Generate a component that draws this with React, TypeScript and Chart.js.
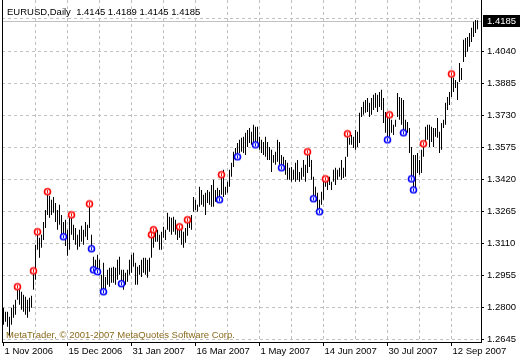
import { useEffect, useRef } from 'react';
import { Chart, registerables } from 'chart.js';
Chart.register(...registerables);

const symbolTitle = 'EURUSD,Daily';
const lastOHLC = ['1.4145', '1.4189', '1.4145', '1.4185'];
const lastPrice = 1.4185;
const copyrightText = 'MetaTrader, \u00a9 2001-2007 MetaQuotes Software Corp.';

const highs = [
  1.2798, 1.2778, 1.2778, 1.2754, 1.2798, 1.2812, 1.2836, 1.2899, 1.2885, 1.2875,
  1.2860, 1.2851, 1.2836, 1.2846, 1.2856, 1.2976, 1.3102, 1.3165, 1.3136, 1.3151,
  1.3213, 1.3271, 1.3359, 1.3339, 1.3320, 1.3334, 1.3305, 1.3271, 1.3296, 1.3247,
  1.3213, 1.3223, 1.3175, 1.3233, 1.3247, 1.3199, 1.3184, 1.3151, 1.3175, 1.3194,
  1.3175, 1.3213, 1.3199, 1.3300, 1.3151, 1.3044, 1.3030, 1.3054, 1.3030, 1.2957,
  1.3015, 1.2947, 1.2981, 1.2991, 1.2991, 1.2996, 1.2991, 1.3030, 1.3044, 1.2981,
  1.2981, 1.2967, 1.2981, 1.3030, 1.3054, 1.3064, 1.3015, 1.2996, 1.3005, 1.3030,
  1.3039, 1.3039, 1.3030, 1.3039, 1.3151, 1.3175, 1.3165, 1.3175, 1.3151, 1.3165,
  1.3189, 1.3175, 1.3257, 1.3238, 1.3233, 1.3238, 1.3223, 1.3184, 1.3189, 1.3175,
  1.3165, 1.3184, 1.3223, 1.3238, 1.3247, 1.3334, 1.3320, 1.3296, 1.3383, 1.3368,
  1.3344, 1.3354, 1.3368, 1.3359, 1.3392, 1.3417, 1.3368, 1.3378, 1.3368, 1.3441,
  1.3465, 1.3383, 1.3407, 1.3465, 1.3499, 1.3552, 1.3571, 1.3595, 1.3610, 1.3620,
  1.3625, 1.3644, 1.3658, 1.3668, 1.3649, 1.3683, 1.3673, 1.3673, 1.3625, 1.3610,
  1.3600, 1.3625, 1.3600, 1.3576, 1.3562, 1.3537, 1.3552, 1.3610, 1.3600, 1.3537,
  1.3528, 1.3513, 1.3499, 1.3475, 1.3479, 1.3465, 1.3499, 1.3513, 1.3455, 1.3475,
  1.3513, 1.3489, 1.3552, 1.3537, 1.3513, 1.3431, 1.3383, 1.3354, 1.3320, 1.3359,
  1.3417, 1.3421, 1.3431, 1.3431, 1.3407, 1.3465, 1.3475, 1.3465, 1.3475, 1.3513,
  1.3475, 1.3528, 1.3639, 1.3620, 1.3634, 1.3625, 1.3658, 1.3649, 1.3741, 1.3769,
  1.3794, 1.3803, 1.3813, 1.3789, 1.3813, 1.3828, 1.3837, 1.3828, 1.3842, 1.3852,
  1.3813, 1.3745, 1.3721, 1.3731, 1.3707, 1.3683, 1.3707, 1.3837, 1.3818, 1.3813,
  1.3803, 1.3707, 1.3697, 1.3668, 1.3576, 1.3537, 1.3537, 1.3547, 1.3513, 1.3562,
  1.3591, 1.3673, 1.3683, 1.3683, 1.3673, 1.3668, 1.3668, 1.3716, 1.3649, 1.3692,
  1.3707, 1.3789, 1.3818, 1.3842, 1.3929, 1.3910, 1.3900, 1.3890, 1.3982, 1.3958,
  1.4094, 1.4103, 1.4108, 1.4127, 1.4152, 1.4181, 1.4190, 1.4189,
];

const lows = [
  1.2715, 1.2730, 1.2706, 1.2662, 1.2715, 1.2749, 1.2764, 1.2836, 1.2812, 1.2788,
  1.2778, 1.2764, 1.2749, 1.2778, 1.2798, 1.2885, 1.2933, 1.3078, 1.3039, 1.3088,
  1.3126, 1.3184, 1.3247, 1.3233, 1.3247, 1.3257, 1.3213, 1.3175, 1.3199, 1.3151,
  1.3141, 1.3097, 1.3049, 1.3078, 1.3151, 1.3126, 1.3102, 1.3078, 1.3093, 1.3117,
  1.3102, 1.3141, 1.3126, 1.3184, 1.3083, 1.2981, 1.2972, 1.2972, 1.2957, 1.2880,
  1.2875, 1.2885, 1.2909, 1.2899, 1.2918, 1.2918, 1.2909, 1.2933, 1.2957, 1.2914,
  1.2885, 1.2909, 1.2923, 1.2957, 1.2967, 1.2996, 1.2909, 1.2909, 1.2957, 1.2947,
  1.2967, 1.2957, 1.2943, 1.2972, 1.3039, 1.3088, 1.3117, 1.3117, 1.3078, 1.3078,
  1.3136, 1.3126, 1.3175, 1.3165, 1.3151, 1.3165, 1.3151, 1.3126, 1.3136, 1.3102,
  1.3088, 1.3112, 1.3146, 1.3184, 1.3175, 1.3262, 1.3271, 1.3262, 1.3286, 1.3296,
  1.3286, 1.3247, 1.3305, 1.3296, 1.3286, 1.3286, 1.3310, 1.3329, 1.3320, 1.3344,
  1.3334, 1.3344, 1.3354, 1.3383, 1.3431, 1.3479, 1.3513, 1.3528, 1.3547, 1.3552,
  1.3547, 1.3537, 1.3576, 1.3595, 1.3586, 1.3586, 1.3586, 1.3576, 1.3562, 1.3547,
  1.3537, 1.3528, 1.3513, 1.3513, 1.3455, 1.3499, 1.3489, 1.3504, 1.3489, 1.3475,
  1.3465, 1.3441, 1.3417, 1.3417, 1.3407, 1.3417, 1.3407, 1.3417, 1.3407, 1.3417,
  1.3431, 1.3407, 1.3450, 1.3479, 1.3417, 1.3325, 1.3310, 1.3271, 1.3262, 1.3296,
  1.3320, 1.3383, 1.3368, 1.3392, 1.3368, 1.3407, 1.3392, 1.3417, 1.3431, 1.3417,
  1.3426, 1.3431, 1.3528, 1.3586, 1.3586, 1.3571, 1.3562, 1.3576, 1.3595, 1.3721,
  1.3731, 1.3741, 1.3745, 1.3721, 1.3731, 1.3755, 1.3765, 1.3745, 1.3769, 1.3755,
  1.3692, 1.3644, 1.3610, 1.3625, 1.3644, 1.3634, 1.3673, 1.3721, 1.3707, 1.3683,
  1.3644, 1.3644, 1.3644, 1.3547, 1.3421, 1.3368, 1.3354, 1.3450, 1.3441, 1.3450,
  1.3528, 1.3595, 1.3610, 1.3576, 1.3600, 1.3576, 1.3625, 1.3620, 1.3547, 1.3562,
  1.3668, 1.3683, 1.3755, 1.3779, 1.3818, 1.3842, 1.3861, 1.3803, 1.3890, 1.3900,
  1.3987, 1.4011, 1.4036, 1.4060, 1.4084, 1.4108, 1.4127, 1.4145,
];

const upFractalBars = [7, 15, 17, 22, 34, 43, 74, 75, 88, 92, 109, 152, 161, 172, 193, 210, 224];
const upFractalPrices = [1.2899, 1.2976, 1.3165, 1.3359, 1.3247, 1.3300, 1.3151, 1.3175, 1.3189, 1.3223, 1.3441, 1.3552, 1.3421, 1.3639, 1.3731, 1.3591, 1.3929];
const downFractalBars = [30, 44, 45, 47, 50, 59, 108, 117, 126, 139, 155, 158, 192, 200, 204, 205];
const downFractalPrices = [1.3141, 1.3083, 1.2981, 1.2972, 1.2875, 1.2914, 1.3320, 1.3528, 1.3586, 1.3475, 1.3325, 1.3262, 1.3610, 1.3644, 1.3421, 1.3368];

const priceTicks = [1.2645, 1.28, 1.2955, 1.311, 1.3265, 1.342, 1.3575, 1.373, 1.3885, 1.404, 1.4195];
const dateTickLabels = ['1 Nov 2006', '15 Dec 2006', '31 Jan 2007', '16 Mar 2007', '1 May 2007', '14 Jun 2007', '30 Jul 2007', '12 Sep 2007'];
const barsPerDateLabel = 32;
const barsPerGrid = 16;

const FONT = '"Liberation Sans", Arial, sans-serif';
const GRID = '#c0c0c0';

function makeMarker(color: string) {
  const c = document.createElement('canvas');
  c.width = 9;
  c.height = 9;
  const g = c.getContext('2d')!;
  g.beginPath();
  g.arc(4.5, 4.5, 3.0, 0, Math.PI * 2);
  g.fillStyle = '#ffffff';
  g.fill();
  g.lineWidth = 1.6;
  g.strokeStyle = color;
  g.stroke();
  g.fillStyle = color;
  g.fillRect(4, 3, 1, 3);
  return c;
}

export default function App() {
  const ref = useRef<HTMLCanvasElement | null>(null);
  useEffect(() => {
    document.body.style.margin = '0';
    const canvas = ref.current!;
    const yMin = 1.26319;
    const yMax = 1.42868;
    const barData = highs.map((h, i) => ({ x: i, y: [lows[i], h] }));
    const upData = upFractalBars.map((b, k) => ({ x: b, y: upFractalPrices[k] }));
    const downData = downFractalBars.map((b, k) => ({ x: b, y: downFractalPrices[k] }));
    const gridBars: number[] = [];
    for (let b = 0; b < highs.length; b += barsPerGrid) gridBars.push(b);

    const overlay = {
      id: 'mt4overlay',
      beforeDatasetsDraw(chart: any) {
        const { ctx, chartArea } = chart;
        const y = Math.round(chart.scales.y.getPixelForValue(lastPrice)) + 0.5;
        ctx.save();
        ctx.strokeStyle = GRID;
        ctx.lineWidth = 1;
        ctx.beginPath();
        ctx.moveTo(chartArea.left, y);
        ctx.lineTo(chartArea.right, y);
        ctx.stroke();
        ctx.strokeStyle = '#000000';
        ctx.beginPath();
        ctx.moveTo(chartArea.left + 0.5, chartArea.top);
        ctx.lineTo(chartArea.left + 0.5, chartArea.bottom);
        ctx.stroke();
        ctx.restore();
      },
      afterDraw(chart: any) {
        const { ctx, chartArea } = chart;
        ctx.save();
        ctx.font = '9.5px ' + FONT;
        ctx.textBaseline = 'alphabetic';
        ctx.textAlign = 'left';
        ctx.fillStyle = '#000000';
        ctx.fillText(symbolTitle + '  ' + lastOHLC.join(' '), 7, 15);
        ctx.fillStyle = '#8a6a1c';
        ctx.fillText(copyrightText, 6, 338);
        const y = chart.scales.y.getPixelForValue(lastPrice);
        ctx.fillStyle = '#000000';
        ctx.fillRect(chartArea.right + 2, Math.round(y) - 6, 520 - chartArea.right - 2, 12);
        ctx.fillStyle = '#ffffff';
        ctx.textBaseline = 'middle';
        ctx.fillText(lastPrice.toFixed(4), chartArea.right + 6, Math.round(y));
        ctx.restore();
      },
    };

    const chart = new Chart(canvas, {
      type: 'bar',
      data: {
        datasets: [
          {
            type: 'bar',
            data: barData as any,
            backgroundColor: '#000000',
            borderWidth: 0,
            barThickness: 1,
            inflateAmount: 0,
            xAxisID: 'x',
            yAxisID: 'y',
            order: 2,
          },
          {
            type: 'scatter',
            data: upData,
            pointStyle: makeMarker('#ff0000') as any,
            pointRadius: 4,
            xAxisID: 'x',
            yAxisID: 'y',
            order: 1,
          },
          {
            type: 'scatter',
            data: downData,
            pointStyle: makeMarker('#0000ff') as any,
            pointRadius: 4,
            xAxisID: 'x',
            yAxisID: 'y',
            order: 1,
          },
        ] as any,
      },
      options: {
        animation: false,
        responsive: false,
        devicePixelRatio: 1,
        layout: { autoPadding: false, padding: { left: 2, right: 0, top: 0, bottom: 0 } },
        plugins: { legend: { display: false }, tooltip: { enabled: false } },
        scales: {
          x: {
            type: 'linear',
            position: 'bottom',
            offset: false,
            min: -0.75,
            max: 238.75,
            afterBuildTicks: (s: any) => {
              s.ticks = gridBars.map((v) => ({ value: v }));
            },
            afterFit: (s: any) => {
              s.height = 18;
              s.paddingLeft = 0;
              s.paddingRight = 0;
            },
            grid: {
              offset: false,
              color: (c: any) => (c.index === 0 ? 'rgba(0,0,0,0)' : GRID),
              tickColor: (c: any) => (c.index % 2 === 0 ? '#000000' : 'rgba(0,0,0,0)'),
              tickLength: 4,
              tickBorderDash: [],
              lineWidth: 1,
            },
            border: { display: true, color: '#000000', dash: [3, 3] },
            ticks: {
              autoSkip: false,
              maxRotation: 0,
              minRotation: 0,
              align: 'start',
              labelOffset: 1,
              padding: 0,
              color: '#000000',
              font: { family: FONT, size: 9.5 },
              callback: (_v: any, idx: number) => {
                const bar = gridBars[idx];
                return bar % barsPerDateLabel === 0 ? dateTickLabels[bar / barsPerDateLabel] : '';
              },
            },
          },
          y: {
            type: 'linear',
            position: 'right',
            min: yMin,
            max: yMax,
            afterBuildTicks: (s: any) => {
              s.ticks = priceTicks.map((v) => ({ value: v }));
            },
            afterFit: (s: any) => {
              s.width = 39;
              s.paddingTop = 0;
              s.paddingBottom = 0;
            },
            grid: {
              color: GRID,
              tickColor: (c: any) => (c.index === priceTicks.length - 1 ? 'rgba(0,0,0,0)' : '#000000'),
              tickLength: 3,
              tickBorderDash: [],
              lineWidth: 1,
            },
            border: { display: true, color: '#000000', dash: [3, 3] },
            ticks: {
              padding: 3,
              color: '#000000',
              font: { family: FONT, size: 9.5 },
              callback: (v: any, idx: number) => (idx === priceTicks.length - 1 ? '' : Number(v).toFixed(4)),
            },
          },
        },
      } as any,
      plugins: [overlay],
    });
    return () => chart.destroy();
  }, []);
  return <canvas ref={ref} width={520} height={360} style={{ display: 'block' }} />;
}
